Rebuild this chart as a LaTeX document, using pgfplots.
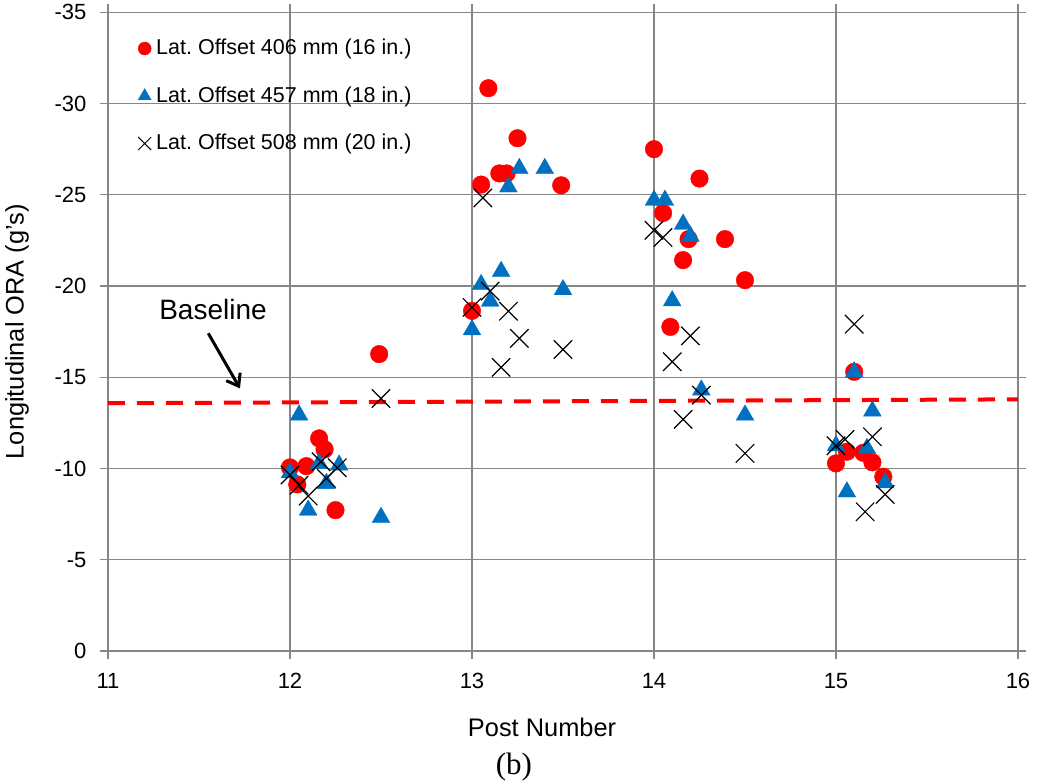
\documentclass[border=0pt]{standalone}
\usepackage{pgfplots}
\pgfplotsset{compat=1.18}
\usepackage{fontspec}
\setmainfont{Liberation Sans}
\newfontfamily\serifcap{Liberation Serif}
\usetikzlibrary{arrows.meta}
\frenchspacing

\definecolor{offA}{RGB}{255,0,0}
\definecolor{offB}{RGB}{0,112,192}
\definecolor{gridgray}{RGB}{134,134,134}

% Longitudinal ORA (g's) by post number, one table per lateral offset
\pgfplotstableread{
x y
12.00 -10.06
12.04 -9.13
12.09 -10.13
12.16 -11.65
12.19 -11.05
12.25 -7.72
12.49 -16.27
13.00 -18.64
13.05 -25.56
13.09 -30.84
13.15 -26.17
13.19 -26.17
13.25 -28.10
13.49 -25.52
14.00 -27.50
14.05 -24.00
14.09 -17.76
14.16 -21.42
14.19 -22.57
14.25 -25.89
14.39 -22.57
14.50 -20.32
15.00 -10.28
15.06 -10.92
15.10 -15.30
15.15 -10.86
15.20 -10.34
15.26 -9.55
}\offsetsixteen

\pgfplotstableread{
x y
12.00 -9.77
12.05 -12.93
12.10 -7.72
12.16 -10.28
12.20 -9.18
12.27 -10.19
12.50 -7.32
13.00 -17.60
13.05 -20.08
13.10 -19.17
13.16 -20.80
13.20 -25.43
13.26 -26.44
13.40 -26.44
13.50 -19.80
14.00 -24.70
14.06 -24.70
14.10 -19.19
14.16 -23.39
14.20 -22.73
14.26 -14.30
14.50 -12.93
15.00 -11.25
15.06 -8.72
15.10 -15.30
15.17 -11.10
15.20 -13.15
15.27 -9.22
}\offseteighteen

\pgfplotstableread{
x y
12.00 -9.64
12.05 -9.09
12.10 -8.49
12.17 -10.37
12.20 -9.46
12.26 -10.04
12.50 -13.84
13.00 -18.83
13.06 -24.83
13.10 -19.72
13.16 -15.54
13.20 -18.62
13.26 -17.13
13.50 -16.52
14.00 -23.06
14.05 -22.66
14.10 -15.85
14.16 -12.69
14.20 -17.27
14.26 -14.02
14.50 -10.83
15.00 -11.25
15.05 -11.60
15.10 -17.91
15.16 -7.63
15.20 -11.74
15.27 -8.58
}\offsettwenty

\begin{document}
\begin{tikzpicture}
\useasboundingbox (-108pt,-131pt) rectangle (929pt,651pt);
\begin{axis}[
  at={(0pt,0pt)}, anchor=south west,
  width=910pt, height=638.7pt, scale only axis,
  xmin=11, xmax=16, ymin=-35, ymax=0,
  y dir=reverse,
  xtick={11,12,...,16},
  ytick={-35,-30,...,0},
  grid=major,
  grid style={color=gridgray, line width=1.1pt},
  axis line style={color=gridgray, line width=1.1pt},
  tick style={color=gridgray, line width=1.1pt},
  tick align=outside,
  major tick length=8pt,
  /pgf/number format/assume math mode=true,
  tick label style={font=\fontsize{22}{26}\selectfont},
  yticklabel style={xshift=-10pt},
  xticklabel style={yshift=-11pt},
  xlabel={Post Number},
  ylabel={Longitudinal ORA (g's)},
  every axis x label/.style={at={(axis description cs:0.477,-0.119)}, anchor=center,
    font=\fontsize{25.4}{30}\selectfont},
  every axis y label/.style={at={(axis description cs:-0.1,0.5)}, rotate=90, anchor=center,
    font=\fontsize{25.4}{30}\selectfont},
  clip=false,
  legend style={
    at={(axis description cs:0,1)}, anchor=north west,
    xshift=27pt, yshift=-24pt,
    draw=none, fill=none,
    font=\fontsize{21.5}{25}\selectfont,
    nodes={inner sep=0pt, text height=16pt, text depth=4pt},
    row sep=27.5pt, column sep=5pt,
  },
  legend cell align=left,
]
% dashed reference level
\addplot[offA, line width=4pt, dash pattern=on 17pt off 12pt, forget plot]
  coordinates {(11,-13.58) (16,-13.79)};

\addplot[only marks, mark=*, mark size=8.8pt, color=offA, mark options={fill=offA, draw=none}, forget plot]
  table {\offsetsixteen};
\addplot[only marks, mark=triangle*, mark size=10.3pt, color=offB, mark options={fill=offB, draw=offB, line width=0.3pt}, forget plot]
  table {\offseteighteen};
\addplot[only marks, mark=x, mark size=13pt, color=black, mark options={line width=1.2pt}, forget plot]
  table {\offsettwenty};

\addlegendimage{legend image code/.code={\draw[offA, fill=offA] plot[only marks, mark=*, mark size=6.5pt] coordinates {(0pt,0pt)};}}
\addlegendimage{legend image code/.code={\draw[offB, fill=offB, line width=0.3pt] plot[only marks, mark=triangle*, mark size=7.5pt] coordinates {(0pt,0pt)};}}
\addlegendimage{legend image code/.code={\draw[black, line width=1pt] plot[only marks, mark=x, mark size=9.2pt] coordinates {(0pt,0pt)};}}
\legend{Lat. Offset 406 mm (16 in.), Lat. Offset 457 mm (18 in.), Lat. Offset 508 mm (20 in.)}

\node[font=\fontsize{28}{33}\selectfont] at (axis cs:11.577,-18.74) {Baseline};
\draw[-{Straight Barb[length=11pt, width=16pt, line width=3pt]}, line width=3pt]
  (axis cs:11.551,-17.41) -- (axis cs:11.725,-14.39);

\node[font=\serifcap\fontsize{31}{36}\selectfont] at (axis description cs:0.446,-0.182) {(b)};
\end{axis}
\end{tikzpicture}
\end{document}
